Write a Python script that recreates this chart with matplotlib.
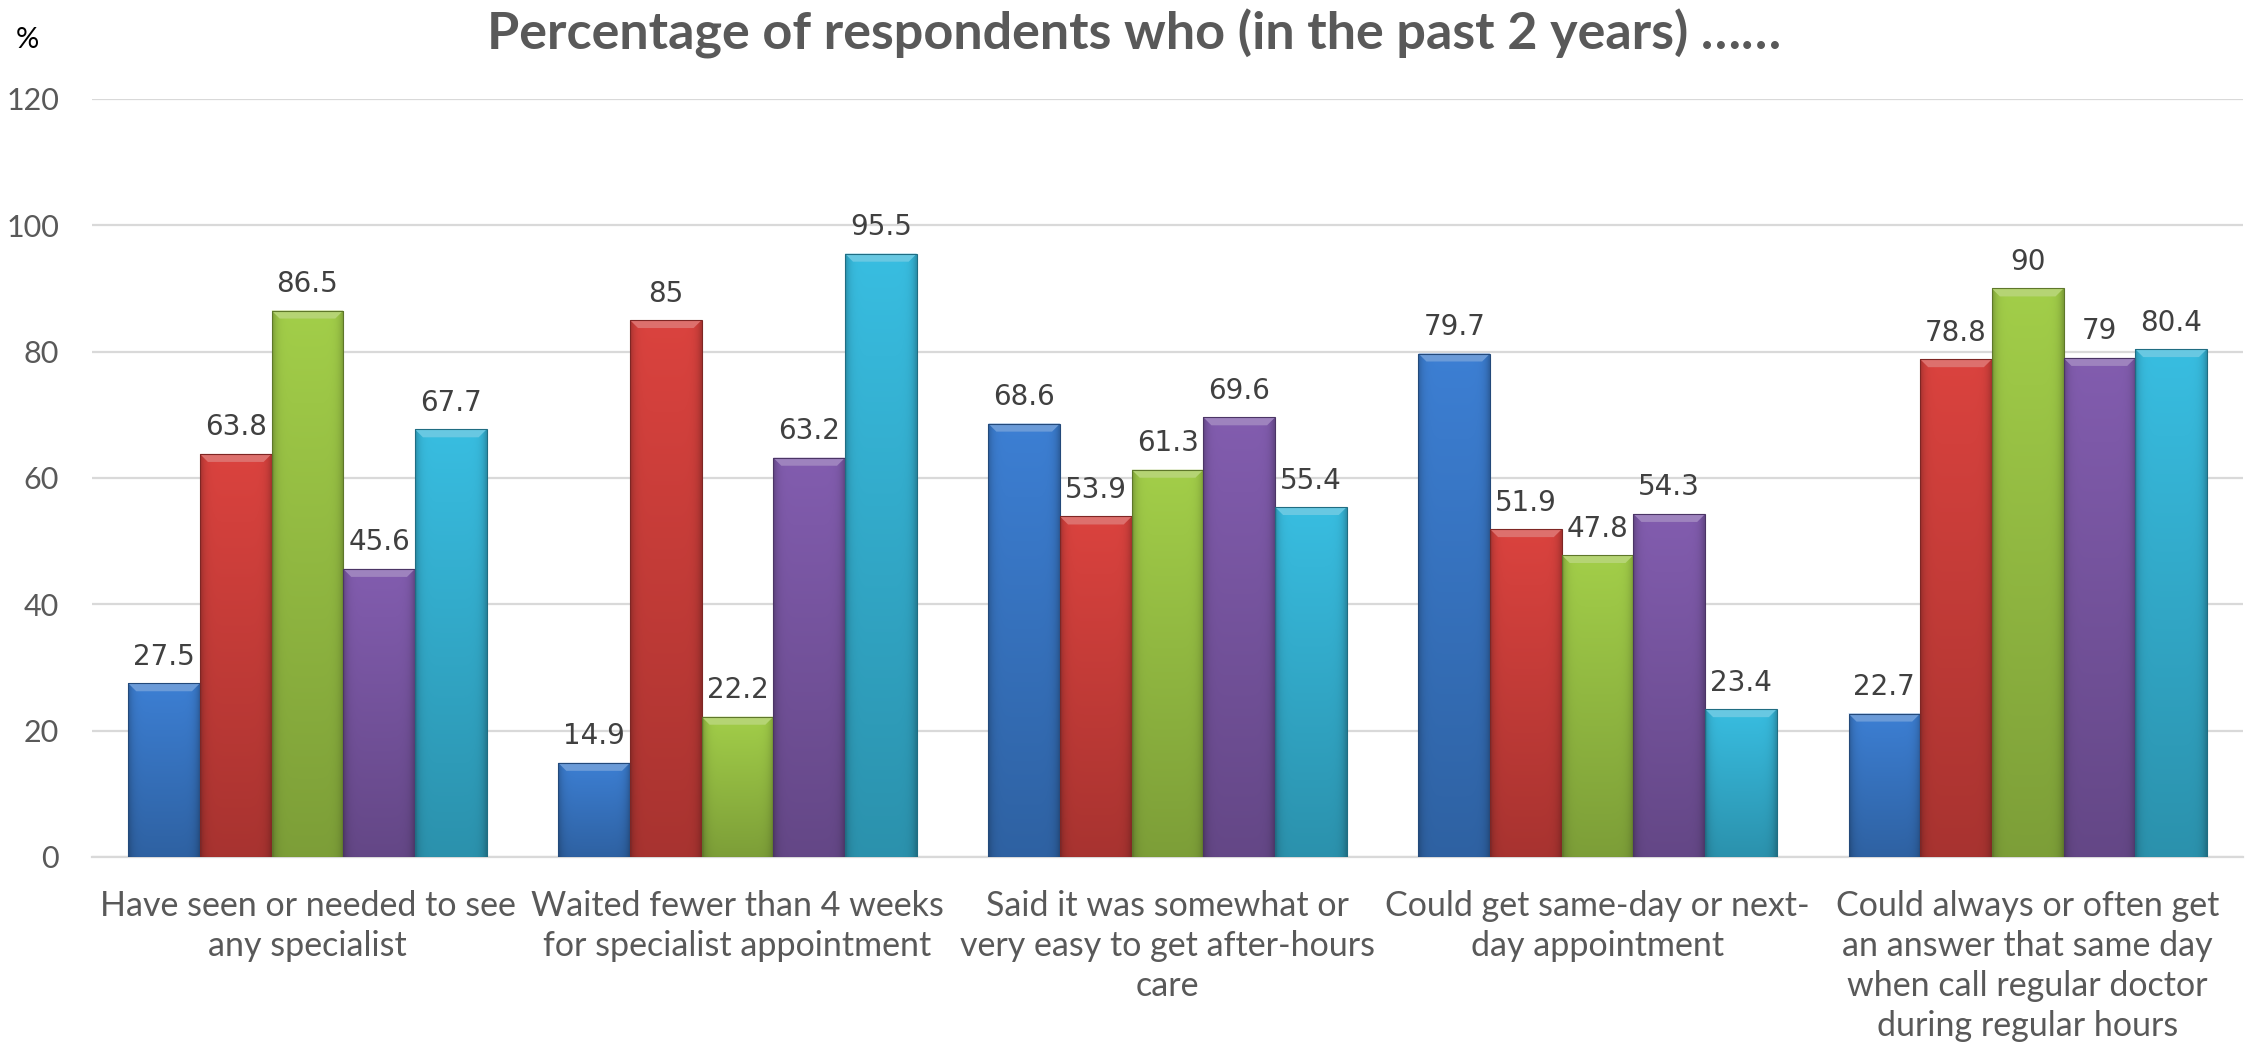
import numpy as np
import matplotlib
matplotlib.use('Agg')
import matplotlib.pyplot as plt
import matplotlib.colors as mcolors
from matplotlib.patches import Polygon

# data
categories = [
    'Have seen or needed to see\nany specialist',
    'Waited fewer than 4 weeks\nfor specialist appointment',
    'Said it was somewhat or\nvery easy to get after-hours\ncare',
    'Could get same-day or next-\nday appointment',
    'Could always or often get\nan answer that same day\nwhen call regular doctor\nduring regular hours',
]
series_blue = [27.5, 14.9, 68.6, 79.7, 22.7]
series_red = [63.8, 85, 53.9, 51.9, 78.8]
series_green = [86.5, 22.2, 61.3, 47.8, 90]
series_purple = [45.6, 63.2, 69.6, 54.3, 79]
series_cyan = [67.7, 95.5, 55.4, 23.4, 80.4]
series = [series_blue, series_red, series_green, series_purple, series_cyan]
colours = ['#3a7acb', '#d2403c', '#9cc646', '#7d59a8', '#36b6d8']
yticks = [0, 20, 40, 60, 80, 100, 120]

label_font = ['Lato', 'DejaVu Sans']
grey = '#595959'

fig = plt.figure(figsize=(22.54, 10.58), dpi=100)
ax = fig.add_axes([0.041, 0.19, 0.954, 0.7165])

x = np.arange(len(categories))
w = 1 / 6
px_per_x = 0.954 * 2254 / 5
px_per_y = 0.7165 * 1058 / 120
dx = 8 / px_per_x
dy = 8 / px_per_y


def shade(rect, colour):
    # gradient fill + light bevel on top, like the office "bevel" bar style
    bx, by = rect.get_x(), rect.get_y()
    bw, bh = rect.get_width(), rect.get_height()
    base = np.array(mcolors.to_rgb(colour))
    vy = np.linspace(1.04, 0.80, 80)[:, None]
    hx = 1 - 0.22 * np.abs(np.linspace(-1, 1, 40)) ** 8
    img = np.clip(base[None, None, :] * vy[:, :, None] * hx[None, :, None], 0, 1)
    im = ax.imshow(img, extent=(bx, bx + bw, by, by + bh), origin='upper',
                   aspect='auto', zorder=3, interpolation='bilinear')
    im.set_clip_path(rect)
    light = np.clip(base * 0.75 + 0.25, 0, 1)
    bevel = Polygon([(bx, bh), (bx + bw, bh), (bx + bw - dx, bh - dy), (bx + dx, bh - dy)],
                    closed=True, facecolor=light, edgecolor='none', zorder=4)
    ax.add_patch(bevel)


for j, (vals, c) in enumerate(zip(series, colours)):
    dark = np.array(mcolors.to_rgb(c)) * 0.6
    bars = ax.bar(x + (j - 2) * w, vals, width=w, facecolor='none',
                  edgecolor=dark, linewidth=0.8, zorder=5)
    for rect, v in zip(bars, vals):
        shade(rect, c)
        ax.annotate(f'{v:g}', (rect.get_x() + rect.get_width() / 2, v),
                    xytext=(0, 9), textcoords='offset points', ha='center', va='bottom',
                    fontsize=20, color='#404040', family='DejaVu Sans', zorder=6)

ax.set_xlim(-0.5, len(categories) - 0.5)
ax.set_ylim(0, 120)
ax.set_yticks(yticks)
ax.set_yticklabels([str(t) for t in yticks], family=label_font, fontsize=22, color=grey)
ax.set_xticks(x)
ax.set_xticklabels(categories, family=label_font, fontsize=24.5, color=grey, linespacing=1.3, va='top')
ax.tick_params(axis='both', length=0)
ax.tick_params(axis='y', pad=24)
ax.tick_params(axis='x', pad=24)
ax.grid(axis='y', color='#d9d9d9', linewidth=1.6, zorder=0)
ax.set_axisbelow(True)
for s in ['top', 'right', 'left']:
    ax.spines[s].set_visible(False)
ax.spines['bottom'].set_color('#d9d9d9')
ax.spines['bottom'].set_linewidth(1.6)

fig.text(0.503, 0.968, 'Percentage of respondents who (in the past 2 years) ……',
         ha='center', va='center', fontsize=37.5, fontweight='bold', color=grey, family=label_font)
fig.text(0.012, 0.962, '%', ha='center', va='center', fontsize=21, color='black', family=label_font)

fig.savefig('out.png', dpi=100)
